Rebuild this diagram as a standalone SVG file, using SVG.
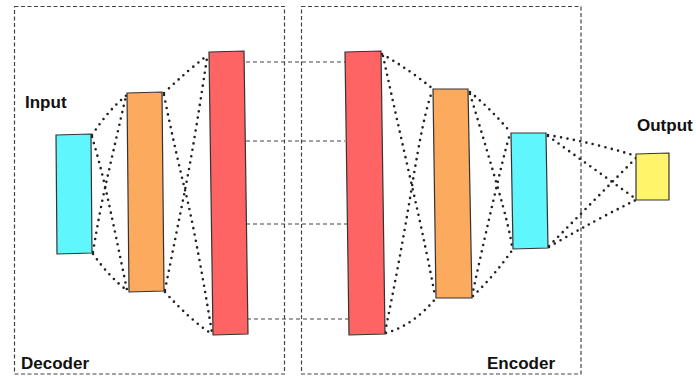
<svg xmlns="http://www.w3.org/2000/svg" width="696" height="376" viewBox="0 0 696 376">
<style>
.box{fill:none;stroke:#444;stroke-width:1.2;stroke-dasharray:4 2.5}
.hl{fill:none;stroke:#444;stroke-width:1.2;stroke-dasharray:4 3}
.dot{fill:none;stroke:#222;stroke-width:2.6;stroke-linecap:round;stroke-dasharray:0 6.5}
.layer{stroke:#333;stroke-width:1.2}
.cyan{fill:#60F6FD}
.orange{fill:#FCAA5E}
.red{fill:#FF6464}
.yellow{fill:#FFF46A}
text{font-family:"Liberation Sans",Arial,sans-serif;font-weight:bold;font-size:17px;fill:#111}
</style>
<rect width="696" height="376" fill="#fff"/>
<g id="decoder-box"><rect class="box" x="14.5" y="6.5" width="270" height="367.5"/><text x="21" y="369">Decoder</text></g>
<g id="encoder-box"><rect class="box" x="301.5" y="6.5" width="279.5" height="367.5"/><text x="487" y="369">Encoder</text></g>
<g id="connectors">
<path class="hl" d="M246 62H345M246 141H345M246 224H347M247 319H348"/>
<!-- cyan1 - orange1 -->
<path class="dot" d="M92 135Q110 108 127 95"/>
<path class="dot" d="M92 137Q99 160 105 186T127 290"/>
<path class="dot" d="M93 252Q99 215 105 188T126 96"/>
<path class="dot" d="M93 254Q110 278 128 291"/>
<!-- orange1 - red1 -->
<path class="dot" d="M164 93Q188 70 208 55"/>
<path class="dot" d="M164 95Q174 145 185 190T212 333"/>
<path class="dot" d="M165 290Q176 235 185 190T207 58"/>
<path class="dot" d="M165 292Q190 320 212 334"/>
<!-- red2 - orange2 -->
<path class="dot" d="M382 54Q410 70 433 89"/>
<path class="dot" d="M383 56Q397 120 412 186T435 296"/>
<path class="dot" d="M385 332Q400 260 412 186T432 92"/>
<path class="dot" d="M386 333Q414 325 436 298"/>
<!-- orange2 - cyan2 -->
<path class="dot" d="M470 92Q492 110 511 133"/>
<path class="dot" d="M470 94Q484 140 497 185T512 247"/>
<path class="dot" d="M472 296Q484 240 497 185T510 136"/>
<path class="dot" d="M473 296Q495 275 513 249"/>
<!-- cyan2 - yellow -->
<path class="dot" d="M548 135Q595 143 636 156"/>
<path class="dot" d="M548 136L636 199"/>
<path class="dot" d="M549 246L636 158"/>
<path class="dot" d="M549 247Q595 220 636 200"/>
</g>
<g id="input"><polygon class="layer cyan" points="56,135 91,134 92,253 57,254"/><text x="25" y="108">Input</text></g>
<g id="orange1"><polygon class="layer orange" points="127,93 162,92 164,291 129,292"/></g>
<g id="red1"><polygon class="layer red" points="209,52 244,51 248,334 213,335"/></g>
<g id="red2"><polygon class="layer red" points="345,52 381,51 385,334 349,335"/></g>
<g id="orange2"><polygon class="layer orange" points="433,89 468,89 472,298 436,298"/></g>
<g id="cyan2"><polygon class="layer cyan" points="511,133 546,133 548,248 513,249"/></g>
<g id="output"><polygon class="layer yellow" points="636,154 669,153 669,200 636,200"/><text x="637" y="131">Output</text></g>
</svg>
